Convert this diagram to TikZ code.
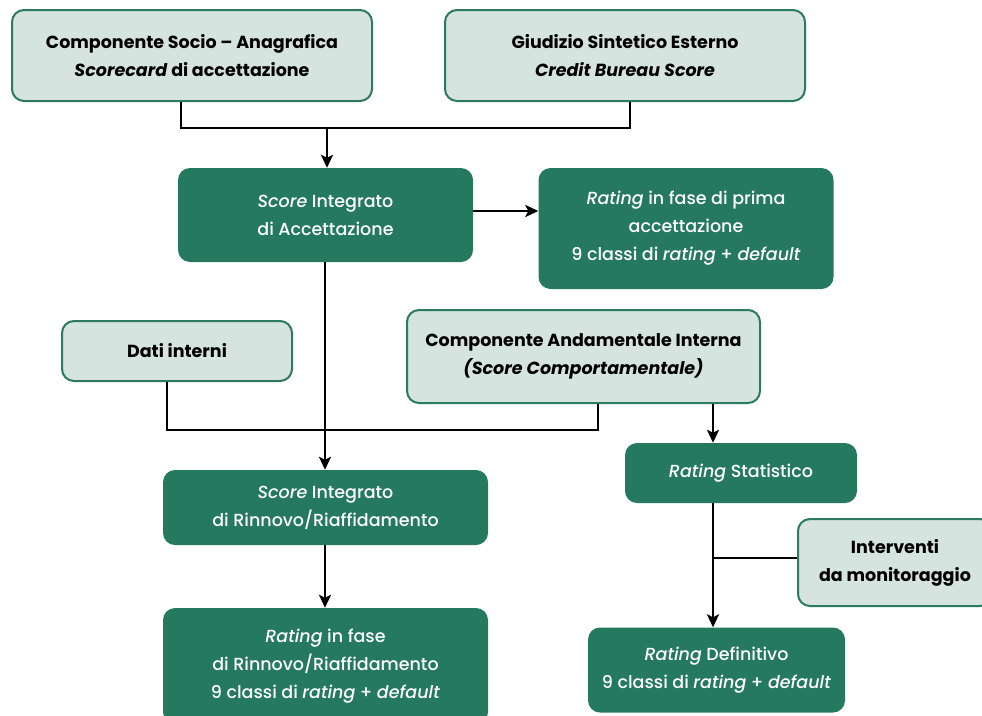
\documentclass[tikz,border=0pt]{standalone}
\usepackage{fontspec}
\setmainfont{Poppins}
\newfontfamily\medfont{Poppins Medium}
\usetikzlibrary{arrows.meta}
\definecolor{dkgreen}{RGB}{36,121,95}
\definecolor{ltgreen}{RGB}{213,228,223}
\definecolor{bdgreen}{RGB}{44,122,96}
\begin{document}
\begin{tikzpicture}[x=1pt,y=-1pt,
  base/.style={rounded corners=12pt, inner sep=0pt, align=center},
  lightbox/.style={base, fill=ltgreen, draw=bdgreen, line width=2pt, text=black, font=\fontsize{17.5}{28}\selectfont\bfseries},
  darkbox/.style={base, fill=dkgreen, draw=none, text=white, font=\fontsize{17.5}{28}\selectfont\medfont},
  conn/.style={line width=2.4pt, draw=black},
  arr/.style={conn, -{Stealth[length=13pt,width=12pt,inset=3pt]}}]
\useasboundingbox (0,0) rectangle (982,715);
% boxes
\node[lightbox, minimum width=360pt, minimum height=91pt] (A) at (192,55.5)
  {Componente Socio -- Anagrafica\\\textit{Scorecard} di accettazione};
\node[lightbox, minimum width=360pt, minimum height=91pt] (B) at (625,55.5)
  {Giudizio Sintetico Esterno\\\textit{Credit Bureau Score}};
\node[darkbox, minimum width=295pt, minimum height=94pt] (C) at (325.5,215)
  {\textit{Score} Integrato\\di Accettazione};
\node[darkbox, minimum width=295pt, minimum height=121pt] (D) at (686,228.5)
  {\textit{Rating} in fase di prima\\accettazione\\9 classi di \textit{rating} + \textit{default}};
\node[lightbox, minimum width=230pt, minimum height=60pt] (E) at (177,351)
  {Dati interni};
\node[lightbox, minimum width=353pt, minimum height=93pt] (F) at (583.5,356.5)
  {Componente Andamentale Interna\\\textit{(Score Comportamentale)}};
\node[darkbox, minimum width=232pt, minimum height=60pt] (G) at (741,473)
  {\textit{Rating} Statistico};
\node[darkbox, minimum width=325pt, minimum height=75pt] (J) at (325.5,507.5)
  {\textit{Score} Integrato\\di Rinnovo/Riaffidamento};
\node[lightbox, minimum width=194pt, minimum height=87pt] (H) at (895,562.5)
  {Interventi\\da monitoraggio};
\node[darkbox, minimum width=257pt, minimum height=85pt] (I) at (716.5,670)
  {\textit{Rating} Definitivo\\9 classi di \textit{rating} + \textit{default}};
\node[darkbox, minimum width=325pt, minimum height=116pt] (K) at (325.5,666)
  {\textit{Rating} in fase\\di Rinnovo/Riaffidamento\\9 classi di \textit{rating} + \textit{default}};
% junctions
\coordinate (jA) at (327,128);
\coordinate (jE) at (167,430);
\coordinate (jH) at (713,558);
% connectors
\draw[conn] (181,0 |- A.south) |- (jA) -| (630,0 |- B.south);
\draw[arr] (jA) -- (327,0 |- C.north);
\draw[arr] (C.east |- 0,211) -- (D.west |- 0,211);
\draw[conn] (167,0 |- E.south) -- (jE) -| (598,0 |- F.south);
\draw[arr] (325,0 |- C.south) -- (325,0 |- J.north);
\draw[arr] (713,0 |- F.south) -- (713,0 |- G.north);
\draw[arr] (713,0 |- G.south) -- (713,0 |- I.north);
\draw[conn] (H.west |- jH) -- (jH);
\draw[arr] (325,0 |- J.south) -- (325,0 |- K.north);
\end{tikzpicture}
\end{document}
